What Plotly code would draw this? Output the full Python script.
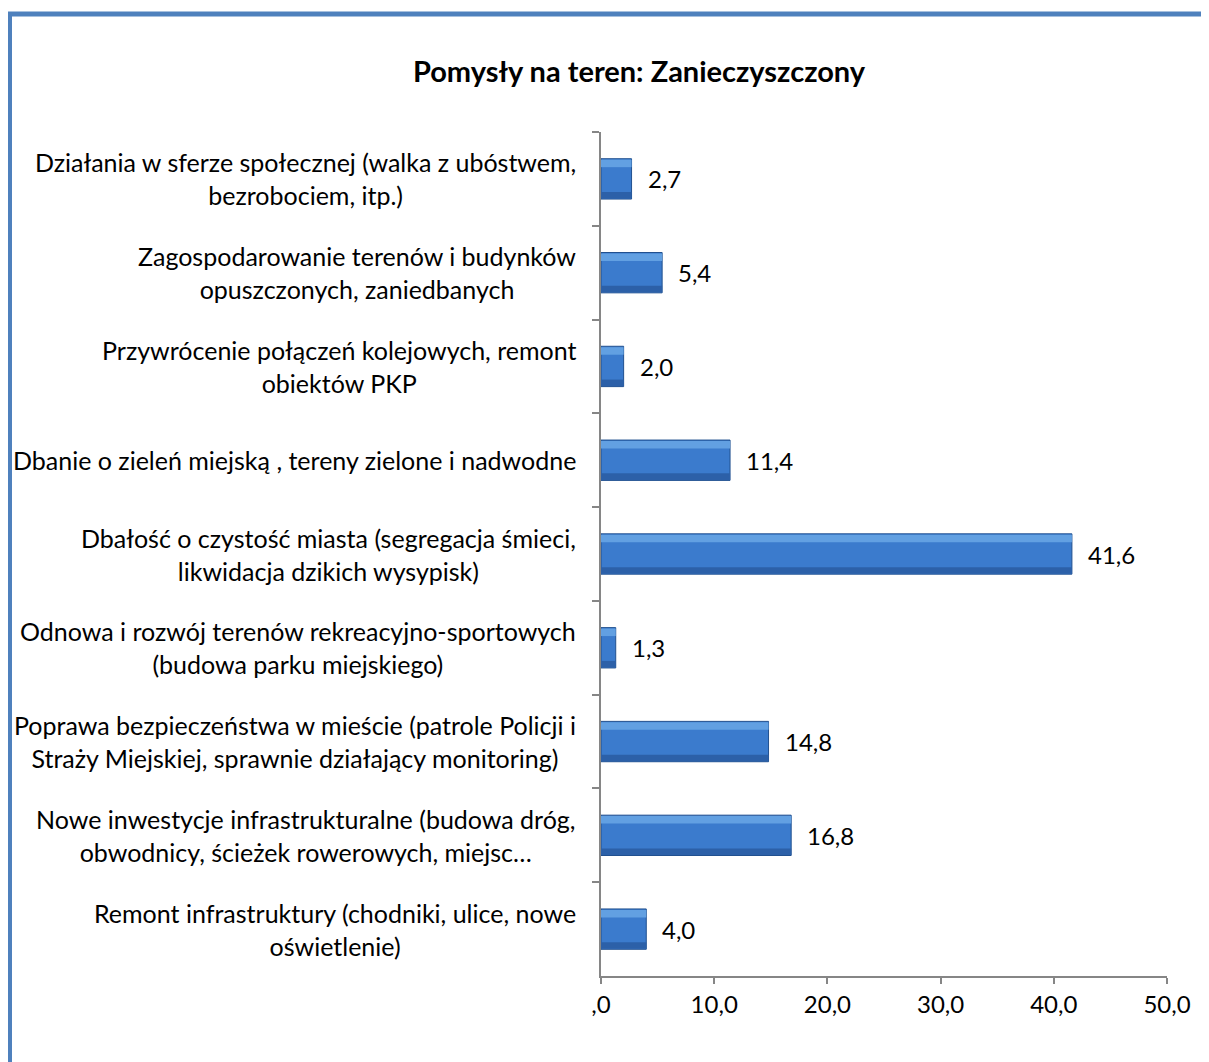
import plotly.graph_objects as go

categories = [
    "Działania w sferze społecznej (walka z ubóstwem,<br>bezrobociem, itp.)",
    "Zagospodarowanie terenów i budynków<br>opuszczonych, zaniedbanych",
    "Przywrócenie połączeń kolejowych, remont<br>obiektów PKP",
    "Dbanie o zieleń miejską , tereny zielone i nadwodne",
    "Dbałość o czystość miasta (segregacja śmieci,<br>likwidacja dzikich wysypisk)",
    "Odnowa i rozwój terenów rekreacyjno-sportowych<br>(budowa parku miejskiego)",
    "Poprawa bezpieczeństwa w mieście (patrole Policji i<br>Straży Miejskiej, sprawnie działający monitoring)",
    "Nowe inwestycje infrastrukturalne (budowa dróg,<br>obwodnicy, ścieżek rowerowych, miejsc…",
    "Remont infrastruktury (chodniki, ulice, nowe<br>oświetlenie)",
]
values = [2.7, 5.4, 2.0, 11.4, 41.6, 1.3, 14.8, 16.8, 4.0]
value_labels = ["2,7", "5,4", "2,0", "11,4", "41,6", "1,3", "14,8", "16,8", "4,0"]
x_tick_vals = [0, 10, 20, 30, 40, 50]
x_tick_text = [",0", "10,0", "20,0", "30,0", "40,0", "50,0"]
title_text = "Pomysły na teren: Zanieczyszczony"

FONT = "Lato, Carlito, Calibri, sans-serif"
# page body has an 8px margin; figure sized to fit inside the window
W, H = 1201, 1054
ML, MR, MT, MB = 593, 42, 124, 86
PW, PH = W - ML - MR, H - MT - MB

fig = go.Figure()
# main bar body
fig.add_trace(go.Bar(
    y=categories, x=values, orientation="h", width=0.43,
    marker=dict(color="#3B7BCD", line=dict(color="#21508F", width=1)),
    hoverinfo="skip", showlegend=False,
))
# top highlight band
fig.add_trace(go.Bar(
    y=categories, x=values, orientation="h", width=0.08, offset=-0.205,
    marker=dict(color="#62A0E2", line=dict(width=0)),
    hoverinfo="skip", showlegend=False,
))
# bottom shade band
fig.add_trace(go.Bar(
    y=categories, x=values, orientation="h", width=0.07, offset=0.14,
    marker=dict(color="#2C60A8", line=dict(width=0)),
    hoverinfo="skip", showlegend=False,
))

# value labels
for cat, v, lab in zip(categories, values, value_labels):
    fig.add_annotation(
        x=v, y=cat, text=lab, showarrow=False, xanchor="left", xshift=14,
        font=dict(family=FONT, size=24, color="#000000"),
    )

# category labels: right-aligned block, centred lines (as in the original)
for cat in categories:
    fig.add_annotation(
        x=0, xref="paper", y=cat, yref="y", text=cat, showarrow=False,
        xanchor="right", yanchor="middle", align="center", xshift=-23,
        font=dict(family=FONT, size=25, color="#000000"),
    )

# outer border of the chart area
def px_x(p):
    return (p - ML) / PW

def px_y(p):
    return (H - MB - p) / PH

fig.add_shape(
    type="rect", xref="paper", yref="paper",
    x0=px_x(1.5), x1=px_x(1225), y0=px_y(6), y1=px_y(1080),
    line=dict(color="#4F81BD", width=5), fillcolor="rgba(0,0,0,0)", layer="above",
)

fig.update_layout(
    width=W, height=H,
    margin=dict(l=ML, r=MR, t=MT, b=MB, pad=0),
    paper_bgcolor="white", plot_bgcolor="white",
    barmode="overlay",
    title=dict(text="<b>" + title_text + "</b>", x=631 / W, xanchor="center",
               y=1 - 64 / H, yanchor="middle", yref="container",
               font=dict(family=FONT, size=29, color="#000000")),
    font=dict(family=FONT, size=24, color="#000000"),
    xaxis=dict(
        range=[0, 50], tickvals=x_tick_vals, ticktext=x_tick_text,
        showgrid=False, zeroline=False, showline=True, linecolor="#868686", linewidth=1.5,
        ticks="outside", ticklen=6, tickcolor="#868686", tickwidth=1.5,
        tickfont=dict(family=FONT, size=24, color="#000000"), fixedrange=True,
    ),
    yaxis=dict(
        autorange="reversed", type="category", showticklabels=False,
        showgrid=False, zeroline=False, showline=True, linecolor="#868686", linewidth=1.5,
        ticks="outside", ticklen=7, tickcolor="#868686", tickwidth=1.5, tickson="boundaries",
        fixedrange=True,
    ),
)

fig.write_html("out.html")
